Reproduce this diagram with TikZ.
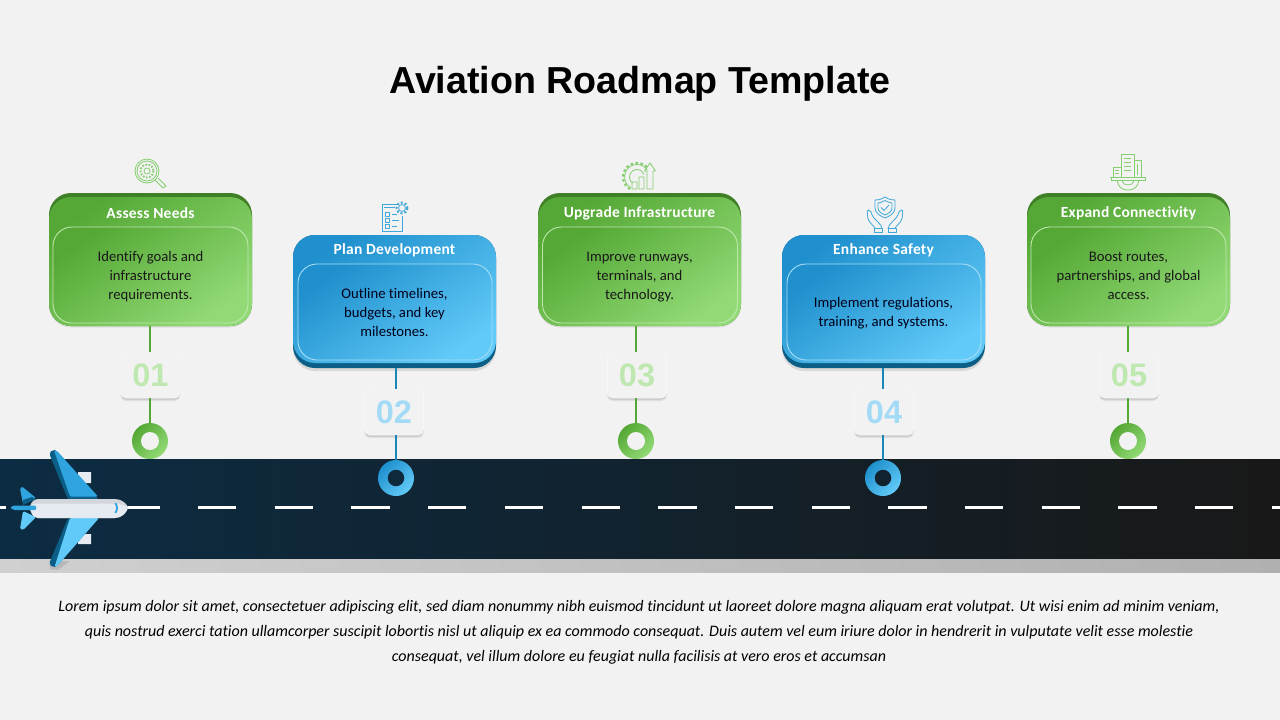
\documentclass[tikz,border=0pt]{standalone}
\usepackage{fontspec}
\setmainfont[Ligatures=NoCommon]{Carlito}
\newfontfamily\headfont{Liberation Sans}
\newfontfamily\labelfont[LetterSpace=1.5, Ligatures=NoCommon]{Carlito}
\usetikzlibrary{shapes, positioning, shadows}

\definecolor{pagebg}{HTML}{F2F2F2}
\definecolor{greendark}{HTML}{3F7F26}
\definecolor{greenmid}{HTML}{55A835}
\definecolor{greenlight}{HTML}{92DA76}
\definecolor{greenedge}{HTML}{BDE8AC}
\definecolor{greennum}{HTML}{BFE8B0}
\definecolor{greenicon}{HTML}{86CF70}
\definecolor{bluedark}{HTML}{0B5F86}
\definecolor{bluemid}{HTML}{1F90CD}
\definecolor{bluewing}{HTML}{2FA4DE}
\definecolor{bluelight}{HTML}{62CAF8}
\definecolor{blueedge}{HTML}{A6DDF6}
\definecolor{bluenum}{HTML}{A3DBF7}
\definecolor{blueicon}{HTML}{3FA8DA}
\definecolor{bluestroke}{HTML}{1B86B8}
\definecolor{planebody}{HTML}{E6EBF2}
\definecolor{planetop}{HTML}{D2D6DB}

\tikzset{
    cardbase/.style={rectangle, inner sep=0pt, rounded corners=22pt, minimum width=203, draw=none},
    cardback/.style={cardbase, minimum height=133},
    greenback/.style={cardback, fill=greendark, drop shadow={shadow xshift=0pt, shadow yshift=-1.5pt, opacity=.07, fill=black}},
    blueback/.style={cardback, fill=bluedark, drop shadow={shadow xshift=0pt, shadow yshift=-3pt, opacity=.10, fill=black}},
    greenface/.style={cardbase, minimum height=129, top color=greenmid, middle color=greenmid!92!greenlight, bottom color=greenlight, shading angle=35},
    blueface/.style={cardbase, minimum height=128, top color=bluemid, middle color=bluemid!88!bluelight, bottom color=bluelight, shading angle=35},
    greeninner/.style={rectangle, rounded corners=19pt, inner sep=0pt, minimum width=195, minimum height=96, draw=greenedge, line width=.9, top color=greenmid, middle color=greenmid!92!greenlight, bottom color=greenlight, shading angle=35},
    blueinner/.style={rectangle, rounded corners=19pt, inner sep=0pt, minimum width=194, minimum height=96, draw=blueedge, line width=.9, top color=bluemid, middle color=bluemid!88!bluelight, bottom color=bluelight, shading angle=35},
    cardbody/.style={align=center, inner sep=0pt, font=\fontsize{14.7}{19}\selectfont},
    cardtitle/.style={text=white, font=\fontsize{15.5}{18}\labelfont\bfseries, inner sep=0pt},
    numbox/.style={rectangle, rounded corners=5pt, inner sep=0pt, minimum width=59, minimum height=46, fill=pagebg, draw=black!3, line width=.6, font=\fontsize{32.5}{36}\headfont\bfseries, drop shadow={shadow xshift=0pt, shadow yshift=-3pt, opacity=.08, fill=black}, drop shadow={shadow xshift=0pt, shadow yshift=-1.5pt, opacity=.12, fill=black}},
    greenring/.style={circle, inner sep=0pt, minimum size=36, top color=greenmid, bottom color=greenlight, shading angle=45},
    bluering/.style={circle, inner sep=0pt, minimum size=36, top color=bluemid, bottom color=bluelight, shading angle=45},
    hole/.style={circle, inner sep=0pt, minimum size=#1},
    greenstem/.style={draw=greenmid, line width=2},
    bluestem/.style={draw=bluestroke, line width=2},
    greenglyph/.style={draw=greenicon, line width=.8, line join=round},
    blueglyph/.style={draw=blueicon, line width=.8, line join=round}
}

\begin{document}
\begin{tikzpicture}[x=1pt, y=-1pt]
    \fill[pagebg] (0,0) rectangle (1280,720);
    \useasboundingbox (0,0) rectangle (1280,720);

    % title
    \node[font=\fontsize{37.6}{40}\headfont\bfseries, inner sep=0pt] (heading) at (640,84) {Aviation Roadmap Template};

    % runway
    \shade[left color={rgb,255:red,208;green,208;blue,208}, right color={rgb,255:red,176;green,176;blue,176}] (0,558) rectangle (1280,572);
    \shade[left color={rgb,255:red,12;green,44;blue,67}, right color={rgb,255:red,24;green,24;blue,24}] (0,459) rectangle (1280,558);
    \draw[white, line width=3, dash pattern=on 38.3pt off 38.4pt, dash phase=32.1pt] (0,507.5) -- (1280,507.5);

    % cards
    \node[greenback] (back1) at (150.5,259.5) {};
    \node[blueback] (back2) at (394.5,301.5) {};
    \node[greenback] (back3) at (639.5,259.5) {};
    \node[blueback] (back4) at (883.5,301.5) {};
    \node[greenback] (back5) at (1128.5,259.5) {};

    \node[greenface] (face1) at (150.5,261.5) {};
    \node[blueface] (face2) at (394.5,299) {};
    \node[greenface] (face3) at (639.5,261.5) {};
    \node[blueface] (face4) at (883.5,299) {};
    \node[greenface] (face5) at (1128.5,261.5) {};

    \node[cardtitle] (title1) at (150.5,213.5) {Assess Needs};
    \node[cardtitle] (title2) at (394.5,250.5) {Plan Development};
    \node[cardtitle] (title3) at (639.5,213.5) {Upgrade Infrastructure};
    \node[cardtitle] (title4) at (883.5,250.5) {Enhance Safety};
    \node[cardtitle] (title5) at (1128.5,213.5) {Expand Connectivity};

    \node[greeninner] (inner1) at (150.5,275) {};
    \node[blueinner] (inner2) at (395,312) {};
    \node[greeninner] (inner3) at (640,275) {};
    \node[blueinner] (inner4) at (884,312) {};
    \node[greeninner] (inner5) at (1128.5,275) {};

    \node[cardbody, text=black!90] (text1) at (150.5,277) {Identify goals and\\infrastructure\\requirements.};
    \node[cardbody, text=black!90!blue] (text2) at (394.5,312) {Outline timelines,\\budgets, and key\\milestones.};
    \node[cardbody, text=black!90] (text3) at (639.5,277) {Improve runways,\\terminals, and\\technology.};
    \node[cardbody, text=black!90!blue] (text4) at (883.5,313) {Implement regulations,\\training, and systems.};
    \node[cardbody, text=black!90] (text5) at (1128.5,276) {Boost routes,\\partnerships, and global\\access.};

    % numbers
    \node[numbox, text=greennum] (num1) at (150.5,375) {01};
    \node[numbox, text=bluenum] (num2) at (394,412) {02};
    \node[numbox, text=greennum] (num3) at (637,375) {03};
    \node[numbox, text=bluenum] (num4) at (884,412) {04};
    \node[numbox, text=greennum] (num5) at (1129,375) {05};

    % markers
    \node[greenring] (dot1) at (150,441) {};
    \node[bluering] (dot2) at (396,478) {};
    \node[greenring] (dot3) at (636,441) {};
    \node[bluering] (dot4) at (883,478) {};
    \node[greenring] (dot5) at (1128,441) {};

    \node[hole=18, fill=pagebg] (hole1) at (dot1) {};
    \node[hole=16.5, fill={rgb,255:red,14;green,41;blue,60}] (hole2) at (dot2) {};
    \node[hole=18, fill=pagebg] (hole3) at (dot3) {};
    \node[hole=16.5, fill={rgb,255:red,17;green,34;blue,46}] (hole4) at (dot4) {};
    \node[hole=18, fill=pagebg] (hole5) at (dot5) {};

    \coordinate (top1) at (150,326);
    \coordinate (top2) at (396,368);
    \coordinate (top3) at (636,326);
    \coordinate (top4) at (883,368);
    \coordinate (top5) at (1128,326);
    \coordinate (mid1) at (150,352);
    \coordinate (mid2) at (396,389);
    \coordinate (mid3) at (636,352);
    \coordinate (mid4) at (883,389);
    \coordinate (mid5) at (1128,352);
    \coordinate (low1) at (150,398);
    \coordinate (low2) at (396,435);
    \coordinate (low3) at (636,398);
    \coordinate (low4) at (883,435);
    \coordinate (low5) at (1128,398);

    \draw[greenstem] (top1) -- (mid1)
        (low1) -- (dot1.north)
        (top3) -- (mid3)
        (low3) -- (dot3.north)
        (top5) -- (mid5)
        (low5) -- (dot5.north);
    \draw[bluestem] (top2) -- (mid2)
        (low2) -- (dot2.north)
        (top4) -- (mid4)
        (low4) -- (dot4.north);

    % icon: magnifier
    \draw[greenglyph] (147,171) circle (12) (147,171) circle (10) (147,171) circle (3);
    \draw[greenglyph, line width=2, dash pattern=on 1.6pt off 1.6pt] (147,171) circle (6.5);
    \draw[greenglyph] (155,180) -- (163,188) -- (166,186) -- (158,178);

    % icon: checklist
    \draw[blueglyph] (398,204) -- (382,204) -- (382,231) -- (402,231) -- (402,216);
    \draw[blueglyph] (402,208) circle (3.5);
    \draw[blueglyph, line width=2, dash pattern=on 2pt off 2pt] (402,208) circle (5.5);
    \draw[blueglyph] (385,212) rectangle (389,216)
        (385,218) rectangle (389,222)
        (385,224) rectangle (389,228)
        (384,207.5) -- (395,207.5)
        (392,214) -- (397,214)
        (392,220) -- (399,220)
        (392,226) -- (397,226);

    % icon: gear and chart
    \draw[greenglyph] (637,177) ++(120:12.5) arc (120:325:12.5);
    \draw[greenglyph] (637,177) ++(125:7.5) arc (125:340:7.5);
    \draw[greenglyph, line width=2.2, dash pattern=on 2.5pt off 2.5pt] (637,177) ++(120:14) arc (120:320:14);
    \draw[greenglyph] (632,189) rectangle (637,182)
        (639,189) rectangle (644,177)
        (647,189) -- (647,171) -- (644.5,171) -- (650,163) -- (655.5,171) -- (653,171) -- (653,189) -- cycle;

    % icon: shield in hands
    \draw[blueglyph] (885,197) .. controls (880,200) and (878,200) .. (875,200) -- (875,208) .. controls (875,213) and (880,216) .. (885,218) .. controls (890,216) and (895,213) .. (895,208) -- (895,200) .. controls (892,200) and (890,200) .. (885,197) -- cycle;
    \draw[blueglyph] (885,200.5) .. controls (882,202) and (880,203) .. (878,203) -- (878,208) .. controls (878,211) and (881,213.5) .. (885,215) .. controls (889,213.5) and (892,211) .. (892,208) -- (892,203) .. controls (890,203) and (888,202) .. (885,200.5) -- cycle;
    \draw[blueglyph] (881,207.5) -- (884,210.5) -- (889,205);
    \draw[blueglyph, rounded corners=2pt] (875,228) -- (868,220) -- (867,210) -- (870.5,210) -- (872.5,216.5) -- (876,220) -- (882,226.5) -- (882,228);
    \draw[blueglyph, rounded corners=2pt] (895,228) -- (902,220) -- (903,210) -- (899.5,210) -- (897.5,216.5) -- (894,220) -- (888,226.5) -- (888,228);
    \draw[blueglyph] (874,228) rectangle (882,232) (888,228) rectangle (896,232);

    % icon: city on gear
    \draw[greenglyph] (1110,177) -- (1146,177) (1111,177) -- (1111,180) -- (1145,180) -- (1145,177);
    \draw[greenglyph] (1113,177) -- (1113,167) -- (1121,167) -- (1121,177)
        (1121,177) -- (1121,154) -- (1134,154) -- (1134,177)
        (1134,177) -- (1134,160) -- (1141,160) -- (1141,177)
        (1115,170) -- (1119,170) (1115,173) -- (1119,173)
        (1124,158) -- (1131,158) (1124,162) -- (1131,162) (1124,166) -- (1131,166) (1124,170) -- (1131,170)
        (1137,164) -- (1137,175);
    \draw[greenglyph] (1117,180) .. controls (1118,187) and (1122,190) .. (1128,190) .. controls (1134,190) and (1138,187) .. (1139,180);
    \draw[greenglyph] (1122,180) .. controls (1123,184) and (1125,185) .. (1128,185) .. controls (1131,185) and (1133,184) .. (1134,180);

    % airplane
    \fill[black, opacity=.10] (49,561) -- (70,561) -- (58,570) -- (50,569) -- cycle;
    \fill[planebody] (78,472) rectangle (91,483) (78,534) rectangle (91,544);
    \fill[bluedark, rounded corners=3pt] (49,453) -- (53,449.5) -- (57,451) -- (99,499.5) -- (68,499.5) -- cycle;
    \fill[bluewing, rounded corners=1.5pt] (54,450.5) -- (57,451) -- (98,496.5) -- (70,496.5) -- cycle;
    \fill[bluedark, rounded corners=3pt] (49,564) -- (53,567.5) -- (57,566) -- (99,518) -- (68,518) -- cycle;
    \fill[bluelight, rounded corners=1.5pt] (54.5,567) -- (57,566) -- (99,518) -- (70,518) -- cycle;
    \fill[bluewing, rounded corners=1.5pt] (20,488) -- (22,486.5) -- (36,498) -- (23,504) -- cycle;
    \fill[bluedark] (23,500) -- (32,497) -- (36,499) -- (23,505) -- cycle;
    \fill[bluelight, rounded corners=1.5pt] (20,529) -- (23,530) -- (36,517) -- (23,511) -- cycle;
    \fill[planetop] (38,499) -- (115,499) .. controls (122,499) and (127,504) .. (128,507.5) .. controls (127,512) and (122,518) .. (115,518) -- (38,518) .. controls (33,518) and (30,511) .. (30,507.5) .. controls (30,504) and (33,499) .. (38,499) -- cycle;
    \fill[planebody] (38,503.5) -- (112,503.5) .. controls (120,503.5) and (125,505) .. (128,507.5) .. controls (127,512) and (122,518) .. (115,518) -- (38,518) .. controls (33,518) and (30,511) .. (30,507.5) .. controls (30,505) and (33,503.5) .. (38,503.5) -- cycle;
    \fill[bluewing, rounded corners=1pt] (10,507.5) -- (14,505.5) -- (36,505.5) -- (36,510) -- (14,510) -- cycle;
    \draw[bluewing, line width=1.8, line cap=round] (115.5,503.5) .. controls (117.5,506) and (117.5,510) .. (115.5,512.5);

    % footer text
    \node[align=center, inner sep=0pt, font=\fontsize{16}{25}\selectfont\itshape] (footer) at (639,632) {Lorem ipsum dolor sit amet, consectetuer adipiscing elit, sed diam nonummy nibh euismod tincidunt ut laoreet dolore magna aliquam erat volutpat. Ut wisi enim ad minim veniam,\\quis nostrud exerci tation ullamcorper suscipit lobortis nisl ut aliquip ex ea commodo consequat. Duis autem vel eum iriure dolor in hendrerit in vulputate velit esse molestie\\consequat, vel illum dolore eu feugiat nulla facilisis at vero eros et accumsan};
\end{tikzpicture}
\end{document}
